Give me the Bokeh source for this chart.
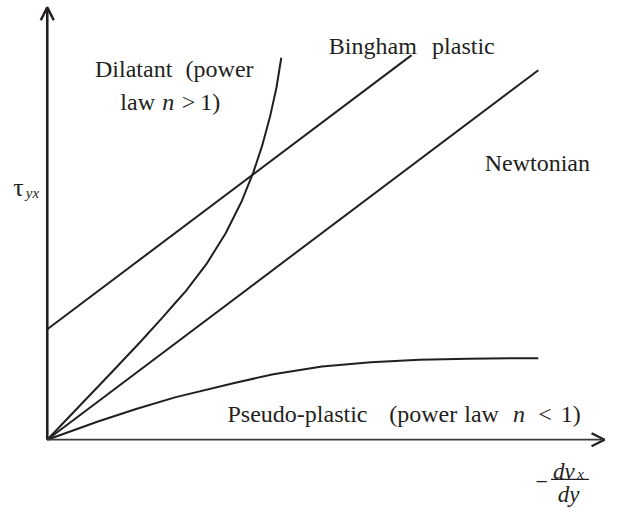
from bokeh.plotting import figure
from bokeh.models import Label, Arrow, OpenHead, Range1d
from bokeh.embed import file_html
from bokeh.resources import INLINE

# ---- data (arbitrary units, shear rate vs shear stress) ----
newton_x = [0.0, 10.0]
newton_y = [0.0, 7.56]

bingham_x = [0.0, 7.42]
bingham_y = [2.26, 7.87]

dilatant_x = [0.0, 0.661, 1.284, 1.899, 2.363, 2.605, 2.817, 3.240, 3.633,
              3.960, 4.198, 4.375, 4.536, 4.667, 4.766]
dilatant_y = [0.0, 0.694, 1.349, 2.004, 2.520, 2.798, 3.036, 3.591, 4.226,
              4.881, 5.476, 6.012, 6.607, 7.202, 7.817]

pseudo_x = [0.0, 1.032, 1.825, 2.619, 3.810, 4.603, 5.595, 6.587, 7.579, 8.571, 10.0]
pseudo_y = [0.0, 0.371, 0.633, 0.871, 1.161, 1.339, 1.496, 1.585, 1.635, 1.659, 1.669]

# ---- layout ----
W, H = 606, 509
KX, KY = W / 622.0, H / 525.0          # fit the 622x525 design into the canvas
OX, OY = 48 * KX, 453 * KY             # canvas position of the origin
SX, SY = 50.4 * KX, 50.4 * KY          # px per data unit
INK = "#231f20"
FONT = "Liberation Serif"

p = figure(width=W, height=H,
           x_range=Range1d(-OX / SX, (W - OX) / SX),
           y_range=Range1d((OY - H) / SY, OY / SY),
           x_axis_type=None, y_axis_type=None,
           output_backend="svg", toolbar_location=None)
p.min_border = 0
p.min_border_left = p.min_border_right = p.min_border_top = p.min_border_bottom = 0
p.outline_line_color = None
p.background_fill_color = "white"
p.border_fill_color = "white"


def at(px, py):
    # design-pixel placement of annotations -> data coordinates
    return (px * KX - OX) / SX, (OY - py * KY) / SY


# curves
for xs, ys in [(newton_x, newton_y), (bingham_x, bingham_y),
               (dilatant_x, dilatant_y), (pseudo_x, pseudo_y)]:
    p.line(xs, ys, line_color=INK, line_width=2, line_join="round")

# axes with open arrow heads
yx, yy = at(48, 7)
p.add_layout(Arrow(end=OpenHead(size=13, line_width=2.5, line_color=INK),
                   x_start=0, y_start=0, x_end=yx, y_end=yy,
                   line_width=2.6, line_color=INK))
xx, xy = at(620, 453)
p.add_layout(Arrow(end=OpenHead(size=13, line_width=2.2, line_color=INK),
                   x_start=0, y_start=0, x_end=xx, y_end=xy,
                   line_width=1.8, line_color="#3a3a3a"))


def lab(text, px, py, size="24px", style="normal", align="left"):
    x, y = at(px, py)
    p.add_layout(Label(x=x, y=y, text=text, text_font=FONT,
                       text_font_size=size, text_font_style=style,
                       text_align=align, text_baseline="alphabetic",
                       text_color=INK))


# curve labels
lab("Dilatant", 97, 71)
lab("(power", 190, 71)
lab("law", 123, 105)
lab("n", 166, 105, style="italic")
lab(">", 186, 105)
lab("1)", 205, 105)

lab("Bingham", 337, 47)
lab("plastic", 443, 47)

lab("Newtonian", 497, 168)

lab("Pseudo-plastic", 233, 427)
lab("(power", 399, 427)
lab("law", 476, 427)
lab("n", 526, 427, style="italic")
lab("<", 552, 427)
lab("1)", 575, 427)

# y-axis label tau_yx
lab("\u03c4", 13, 193, size="26px")
lab("yx", 26, 199, size="15px", style="italic")

# x-axis label  -dv_x/dy
lab("\u2212", 549, 497, size="22px")
lab("dv", 567, 486, size="23px", style="italic")
lab("x", 592, 488, size="15px", style="italic")
bx0, by0 = at(565, 494)
bx1, by1 = at(604, 494)
p.add_layout(Arrow(end=None, x_start=bx0, y_start=by0, x_end=bx1, y_end=by1,
                   line_width=1.3, line_color=INK))
lab("dy", 572, 510, size="23px", style="italic")

open("out.html", "w").write(file_html(p, INLINE))
